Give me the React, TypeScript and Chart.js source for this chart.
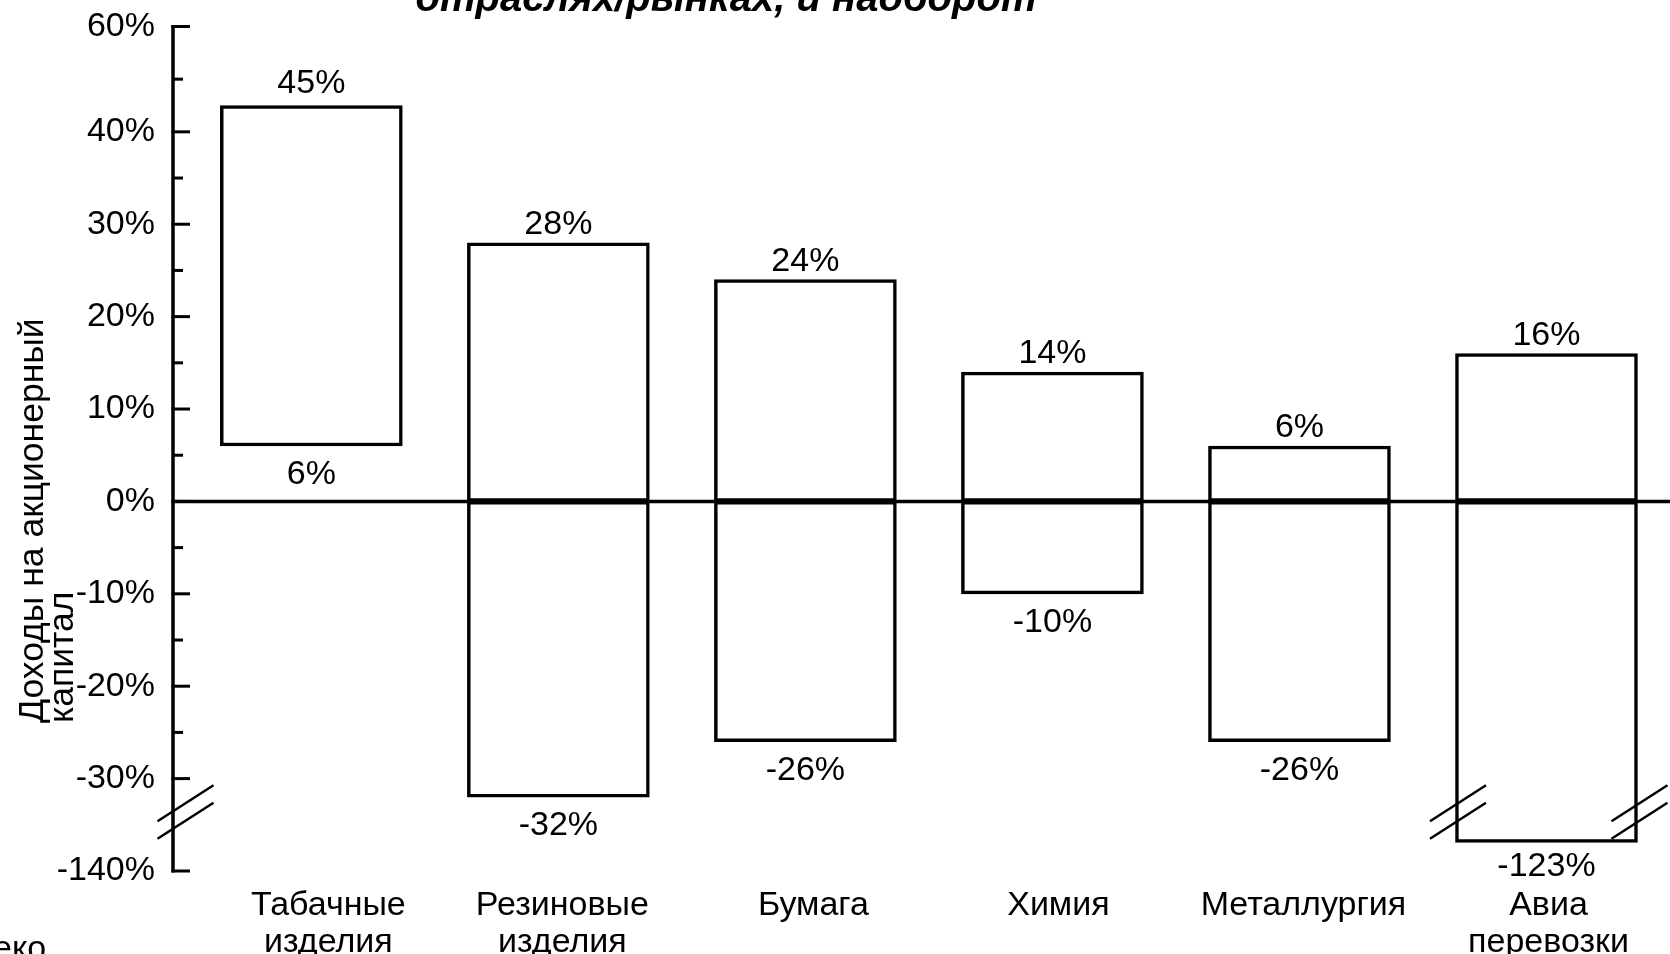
import React, { useEffect, useRef } from "react";
import { Chart, registerables } from "chart.js";

Chart.register(...registerables);

// ---------- data ----------
const categories: string[][] = [
  ["Табачные", "изделия"],
  ["Резиновые", "изделия"],
  ["Бумага"],
  ["Химия"],
  ["Металлургия"],
  ["Авиа", "перевозки"],
];
const highValues = [45, 28, 24, 14, 6, 16];
const lowValues = [6, -32, -26, -10, -26, -123];

const yMajorTicks = [-140, -30, -20, -10, 0, 10, 20, 30, 40, 60];
const yMinorTicks = [-25, -15, -5, 5, 15, 25, 35, 50];

// broken / compressed axis: real value stops -> plotted position stops
const axisReal = [-140, -100, -32.5, 40, 60];
const axisShown = [-40, -32.7, -32.5, 40, 51.4];
const BREAK_AT = -105; // real value where the break marks sit

const titleText = "отраслях/рынках, и наоборот";
const yTitleLines = ["Доходы на акционерный", "капитал"];
const sourceFragment = "еко";

// ---------- helpers ----------
function toAxis(v: number): number {
  for (let i = 0; i < axisReal.length - 1; i++) {
    const a = axisReal[i], b = axisReal[i + 1];
    if (v <= b || i === axisReal.length - 2) {
      const t = (v - a) / (b - a);
      return axisShown[i] + t * (axisShown[i + 1] - axisShown[i]);
    }
  }
  return v;
}

const FONT = '"Liberation Sans", Arial, Helvetica, sans-serif';
const FS = 34;
const X_MIN = -0.56;
const X_MAX = 5.5;
// small horizontal nudges (px) of the category captions, as in the original layout
const captionNudgePx = [17, 4, 8, 6, 4, 2];

const decorPlugin = {
  id: "decor",
  afterDatasetsDraw(chart: any) {
    const { ctx, chartArea: area, scales } = chart;
    const y = scales.y;
    const ax = area.left;
    ctx.save();
    ctx.strokeStyle = "#000";
    ctx.fillStyle = "#000";
    ctx.lineCap = "butt";

    // zero line
    const y0 = y.getPixelForValue(toAxis(0));
    ctx.lineWidth = 3.5;
    ctx.beginPath();
    ctx.moveTo(ax, y0);
    ctx.lineTo(area.right, y0);
    ctx.stroke();

    // axis line
    ctx.lineWidth = 3.5;
    ctx.beginPath();
    ctx.moveTo(ax, area.top - 1.5);
    ctx.lineTo(ax, area.bottom + 1.5);
    ctx.stroke();

    // inward ticks
    ctx.lineWidth = 3;
    yMajorTicks.forEach((v) => {
      const p = y.getPixelForValue(toAxis(v));
      ctx.beginPath();
      ctx.moveTo(ax - 1.5, p);
      ctx.lineTo(ax + 17, p);
      ctx.stroke();
    });
    yMinorTicks.forEach((v) => {
      const p = y.getPixelForValue(toAxis(v));
      ctx.beginPath();
      ctx.moveTo(ax, p);
      ctx.lineTo(ax + 10, p);
      ctx.stroke();
    });

    // break marks
    const yb = y.getPixelForValue(toAxis(BREAK_AT));
    const slash = (cx: number) => {
      ctx.lineWidth = 2.5;
      [-8.7, 8.7].forEach((off) => {
        ctx.beginPath();
        ctx.moveTo(cx - 28, yb + off + 18);
        ctx.lineTo(cx + 28, yb + off - 18);
        ctx.stroke();
      });
    };
    slash(ax + 12.5);
    const metaNeg = chart.getDatasetMeta(1);
    lowValues.forEach((lv, i) => {
      if (lv < BREAK_AT) {
        const el = metaNeg.data[i];
        if (!el) return;
        const half = el.width / 2;
        slash(el.x - half + 2.5);
        slash(el.x + half + 2);
      }
    });

    // value labels
    ctx.font = `${FS}px ${FONT}`;
    ctx.textAlign = "center";
    ctx.textBaseline = "alphabetic";
    const xs = scales.x;
    highValues.forEach((hv, i) => {
      const cx = xs.getPixelForValue(i);
      const pt = y.getPixelForValue(toAxis(hv));
      ctx.fillText(`${hv}%`, cx, pt - (hv > 40 ? 12 : 9));
      const pb = y.getPixelForValue(toAxis(lowValues[i]));
      const lv = lowValues[i];
      ctx.fillText(`${lv}%`, cx, pb + (lv < BREAK_AT ? 34 : 38));
    });

    // y title (rotated, left aligned from bottom)
    ctx.save();
    ctx.font = `35.5px ${FONT}`;
    ctx.textAlign = "left";
    const yStart = 723;
    [43, 73].forEach((bx, li) => {
      ctx.save();
      ctx.translate(bx, yStart);
      ctx.rotate(-Math.PI / 2);
      ctx.fillText(yTitleLines[li], 0, 0);
      ctx.restore();
    });
    ctx.restore();

    // truncated title (top) and source fragment (bottom)
    ctx.font = `italic bold 40px ${FONT}`;
    ctx.textAlign = "center";
    ctx.fillText(titleText, 726, 11);
    ctx.font = `${FS}px ${FONT}`;
    ctx.textAlign = "left";
    ctx.fillText(sourceFragment, -7, 959);

    ctx.restore();
  },
};

export default function App() {
  const ref = useRef<HTMLCanvasElement | null>(null);

  useEffect(() => {
    if (!ref.current) return;
    const posData = categories.map((_, i) => ({
      x: i,
      y: [toAxis(Math.max(lowValues[i], 0)), toAxis(highValues[i])],
    }));
    const negData = categories.map((_, i) =>
      lowValues[i] < 0
        ? { x: i, y: [toAxis(lowValues[i]), toAxis(Math.min(highValues[i], 0))] }
        : { x: i, y: null }
    );
    const barStyle = {
      backgroundColor: "#ffffff",
      borderColor: "#000000",
      borderWidth: 3.5,
      borderSkipped: false,
      barThickness: 182,
      grouped: false,
    };
    const chart = new Chart(ref.current, {
      type: "bar",
      data: {
        datasets: [
          { label: "pos", data: posData as any, ...barStyle } as any,
          { label: "neg", data: negData as any, ...barStyle } as any,
        ],
      },
      options: {
        animation: false,
        responsive: false,
        events: [],
        layout: { padding: { top: 25, left: 0, right: 0, bottom: 0 } },
        plugins: {
          legend: { display: false },
          tooltip: { enabled: false },
          title: { display: false },
        },
        scales: {
          x: {
            type: "linear",
            offset: false,
            min: X_MIN,
            max: X_MAX,
            grid: { display: false, drawTicks: false },
            border: { display: false },
            afterBuildTicks: (s: any) => {
              const pxPerUnit = (s.right - s.left) / (X_MAX - X_MIN) || 247;
              s.ticks = categories.map((_, i) => ({ value: i + captionNudgePx[i] / pxPerUnit }));
            },
            afterFit: (s: any) => {
              s.height = 83;
            },
            ticks: {
              autoSkip: false,
              maxRotation: 0,
              minRotation: 0,
              padding: 16,
              color: "#000",
              font: { family: FONT, size: FS, lineHeight: 1.09 },
              callback: (_v: any, i: number) => categories[i] as any,
            },
          } as any,
          y: {
            type: "linear",
            min: toAxis(-140),
            max: toAxis(60),
            grid: { display: false, drawTicks: false },
            border: { display: false },
            afterBuildTicks: (s: any) => {
              s.ticks = yMajorTicks.map((v) => ({ value: toAxis(v) }));
            },
            afterFit: (s: any) => {
              s.width = 173;
            },
            ticks: {
              padding: 18,
              color: "#000",
              font: { family: FONT, size: FS, lineHeight: 0.5 },
              callback: (_v: any, i: number) => `${yMajorTicks[i]}%`,
            },
          } as any,
        },
      },
      plugins: [decorPlugin],
    });
    return () => chart.destroy();
  }, []);

  return (
    <div
      style={{
        position: "fixed",
        left: 0,
        top: 0,
        width: 1670,
        height: 954,
        overflow: "hidden",
        background: "#fff",
      }}
    >
      <canvas ref={ref} width={1670} height={954} style={{ width: 1670, height: 954, display: "block" }} />
    </div>
  );
}
